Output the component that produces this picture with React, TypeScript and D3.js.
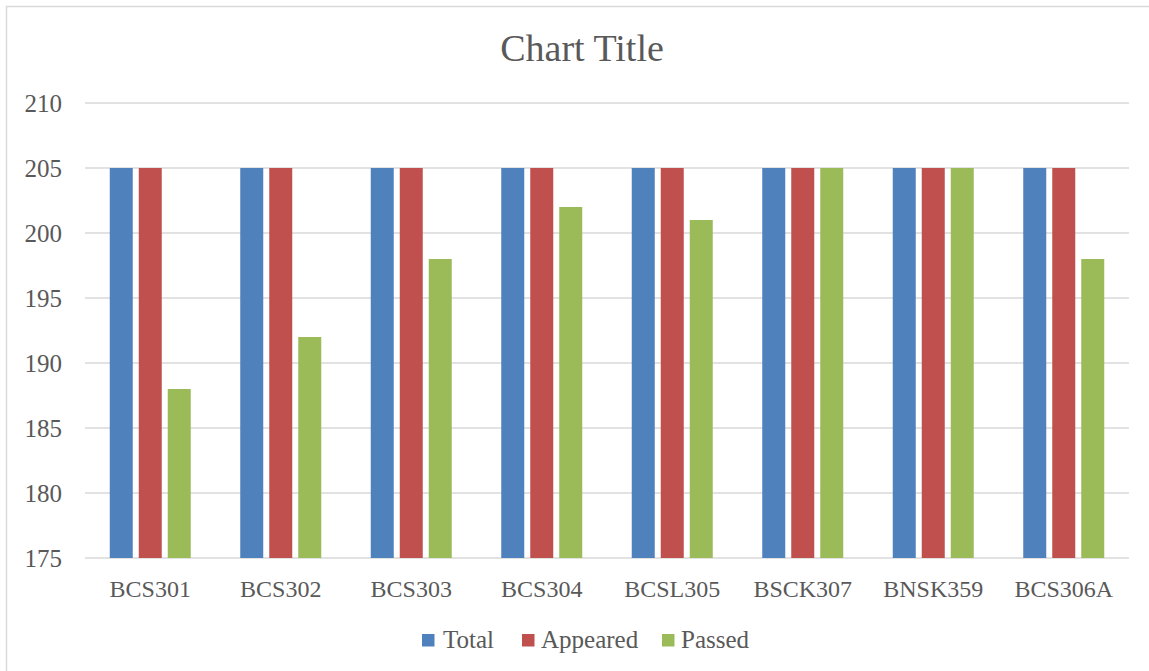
import React from "react";
import * as d3 from "d3";

const categories = ["BCS301", "BCS302", "BCS303", "BCS304", "BCSL305", "BSCK307", "BNSK359", "BCS306A"];
const totalValues = [205, 205, 205, 205, 205, 205, 205, 205];
const appearedValues = [205, 205, 205, 205, 205, 205, 205, 205];
const passedValues = [188, 192, 198, 202, 201, 205, 205, 198];
const yTicks = [175, 180, 185, 190, 195, 200, 205, 210];
const seriesNames = ["Total", "Appeared", "Passed"];
const seriesColors = ["#4F81BD", "#C0504D", "#9BBB59"];

const W = 1149;
const H = 671;
const FONT = "'Liberation Serif', 'Times New Roman', serif";
const TEXT = "#595959";

export default function App() {
  const left = 85, right = 1129, top = 103, bottom = 558;
  const x = d3.scaleBand<string>().domain(categories).range([left, right]).padding(0);
  const y = d3.scaleLinear().domain([175, 210]).range([bottom, top]);
  const inner = d3.scaleBand<string>().domain(seriesNames).range([0, 81]).paddingInner(6 / 29).paddingOuter(0);
  const series = [totalValues, appearedValues, passedValues];
  const groupOffset = (x.bandwidth() - 81) / 2;

  const legendItems = [
    { name: "Total", sq: 422, tx: 443 },
    { name: "Appeared", sq: 522, tx: 541 },
    { name: "Passed", sq: 662, tx: 681 },
  ];

  return (
    <svg width={W} height={H} style={{ position: "absolute", left: 0, top: 0 }} fontFamily={FONT}>
      <rect x={0} y={0} width={W} height={H} fill="#fff" />
      <rect x={6.5} y={6.5} width={W + 10} height={H + 10} fill="#fff" stroke="#d9d9d9" strokeWidth={1.5} />
      <text x={582} y={61} textAnchor="middle" fontSize={38} fill={TEXT}>Chart Title</text>
      {yTicks.map((t) => (
        <g key={t}>
          <line x1={left} x2={right} y1={y(t)} y2={y(t)} stroke="#d9d9d9" strokeWidth={1.5} />
          <text x={62} y={y(t)} dy="0.35em" textAnchor="end" fontSize={25} fill={TEXT}>{t}</text>
        </g>
      ))}
      {categories.map((c, i) => (
        <g key={c}>
          {series.map((vals, s) => (
            <rect
              key={s}
              x={(x(c) as number) + groupOffset + (inner(seriesNames[s]) as number)}
              y={y(vals[i])}
              width={inner.bandwidth()}
              height={y(175) - y(vals[i])}
              fill={seriesColors[s]}
            />
          ))}
          <text x={(x(c) as number) + x.bandwidth() / 2} y={597} textAnchor="middle" fontSize={24} fill={TEXT}>{c}</text>
        </g>
      ))}
      {legendItems.map((l, i) => (
        <g key={l.name}>
          <rect x={l.sq} y={634} width={12.5} height={12.5} fill={seriesColors[i]} />
          <text x={l.tx} y={648} fontSize={25} fill={TEXT}>{l.name}</text>
        </g>
      ))}
    </svg>
  );
}
